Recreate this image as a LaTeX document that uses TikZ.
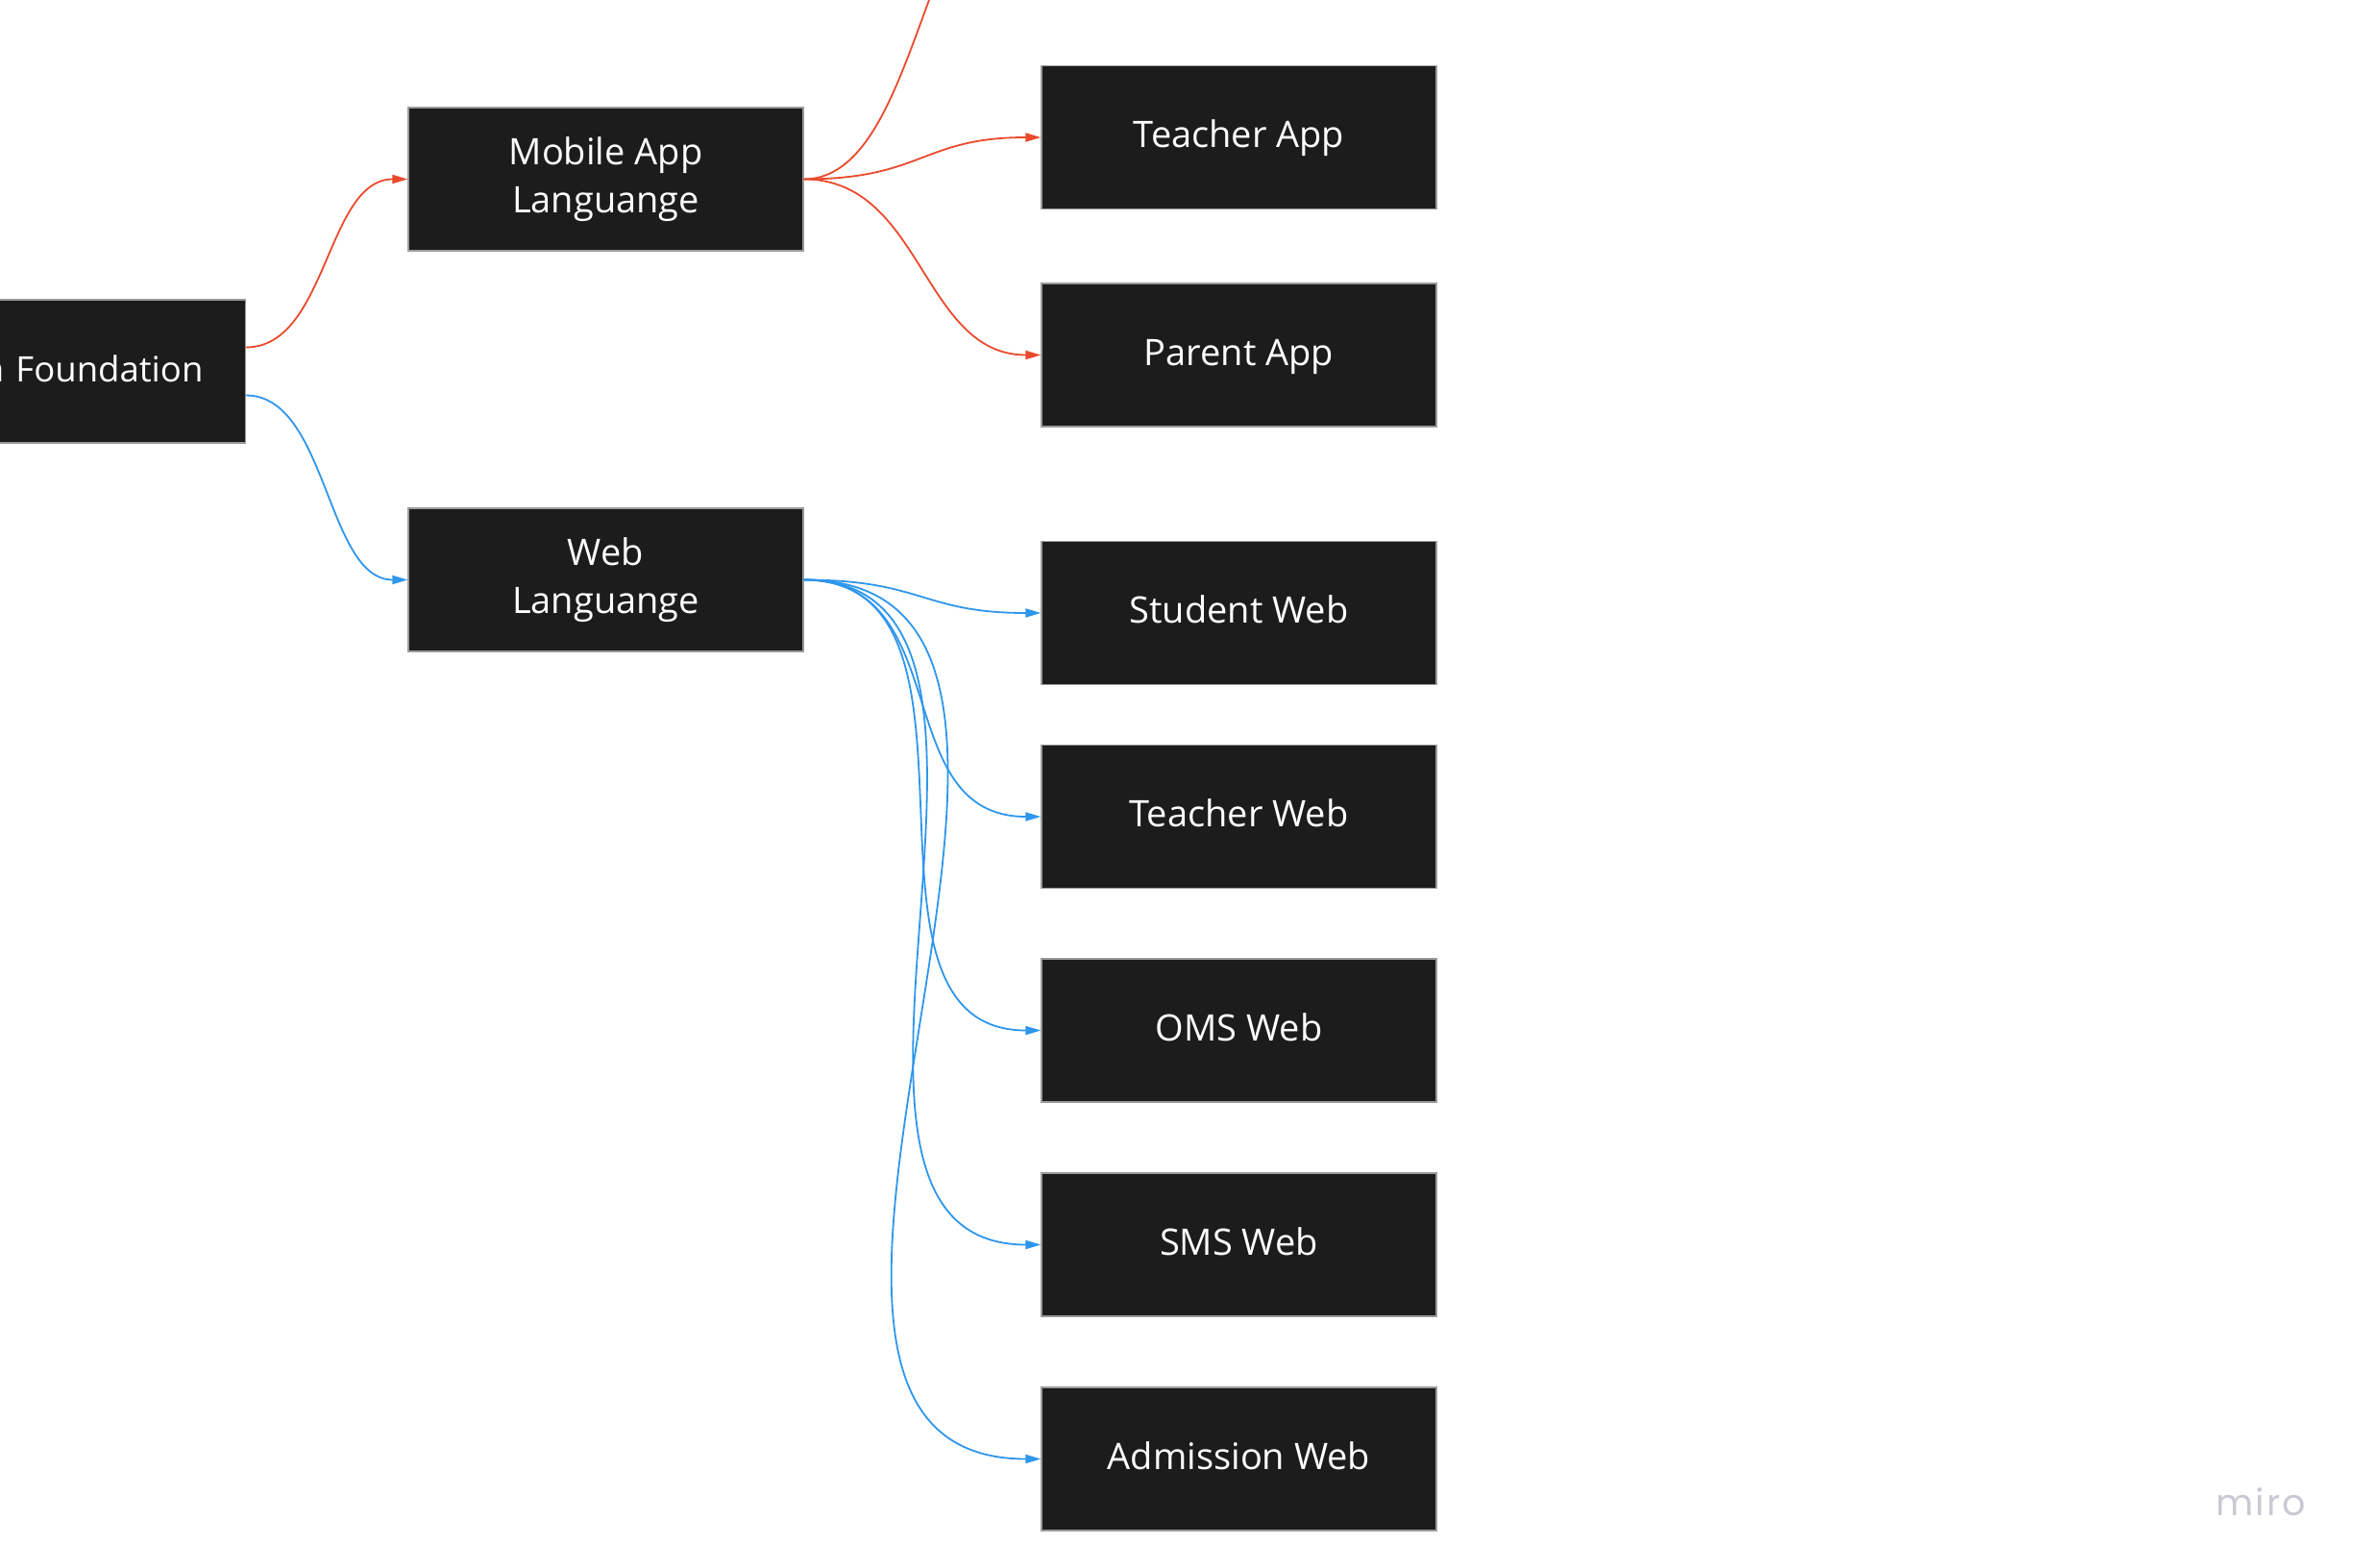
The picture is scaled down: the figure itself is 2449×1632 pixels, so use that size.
\documentclass[tikz,border=0pt]{standalone}
\usepackage{fontspec}
\setmainfont{Open Sans}
\newfontfamily\logofont[LetterSpace=6]{Poppins}
\usetikzlibrary{arrows.meta}
\definecolor{boxfill}{HTML}{1C1C1C}
\definecolor{boxline}{HTML}{9A9A9A}
\definecolor{redc}{HTML}{EA4A2C}
\definecolor{bluec}{HTML}{2E96EC}
\definecolor{logoc}{HTML}{C9C9D3}
\tikzset{
  mapbox/.style={rectangle, fill=boxfill, draw=boxline, line width=1.2pt,
    minimum width=411pt, minimum height=149pt, inner sep=0pt, text=white,
    align=center, font=\fontsize{38}{50}\selectfont},
  oneline/.style={text height=30pt, text depth=9pt},
  redlink/.style={draw=redc, line width=1.8pt, -{Triangle[length=16pt,width=9pt]}},
  bluelink/.style={draw=bluec, line width=1.8pt, -{Triangle[length=16pt,width=9pt]}},
  plainred/.style={draw=redc, line width=1.8pt}
}
\begin{document}
\begin{tikzpicture}[x=1pt,y=-1pt]
\useasboundingbox (0,0) rectangle (2449,1632);
% partially visible root node
\node[mapbox, oneline, anchor=east, minimum width=500pt, text width=412pt, align=right,
      inner xsep=44pt, font=\fontsize{36.5}{48}\selectfont] (found) at (256,386.5) {n Foundation};
% second level
\node[mapbox] (mob) at (630.5,186.5) {Mobile App\\Languange};
\node[mapbox] (web) at (630.5,603.5) {Web\\Languange};
% third level
\node[mapbox, oneline] (tapp) at (1289.5,143) {Teacher App};
\node[mapbox, oneline] (papp) at (1289.5,369.5) {Parent App};
\node[mapbox, oneline] (sweb) at (1289.5,638) {Student Web};
\node[mapbox, oneline] (tweb) at (1289.5,850) {Teacher Web};
\node[mapbox, oneline] (oms) at (1289.5,1072.5) {OMS Web};
\node[mapbox, oneline] (sms) at (1289.5,1295.5) {SMS Web};
\node[mapbox, oneline] (adm) at (1289.5,1518.5) {Admission Web};
% off-picture target of the top red connector
\coordinate (offtop) at (1084,-150);
% connectors from root
\draw[redlink] ([yshift=25pt]found.east) .. controls +(85,0) and +(-85,0) .. (mob.west);
\draw[bluelink] ([yshift=-25pt]found.east) .. controls +(85,0) and +(-85,0) .. (web.west);
% mobile connectors
\draw[plainred] (mob.east) .. controls +(124,0) and +(-124,0) .. (offtop);
\draw[redlink] (mob.east) .. controls +(124,0) and +(-124,0) .. (tapp.west);
\draw[redlink] (mob.east) .. controls +(124,0) and +(-124,0) .. (papp.west);
% web connectors
\draw[bluelink] (web.east) .. controls +(124,0) and +(-124,0) .. (sweb.west);
\draw[bluelink] (web.east) .. controls +(160,0) and +(-160,0) .. (tweb.west);
\draw[bluelink] (web.east) .. controls +(220,0) and +(-220,0) .. (oms.west);
\draw[bluelink] (web.east) .. controls +(290,0) and +(-290,0) .. (sms.west);
\draw[bluelink] (web.east) .. controls +(385,0) and +(-385,0) .. (adm.west);
% watermark
\node[text=logoc, font=\logofont\fontsize{38}{44}\selectfont, inner sep=0pt] (logo) at (2353,1563) {miro};
\end{tikzpicture}
\end{document}
